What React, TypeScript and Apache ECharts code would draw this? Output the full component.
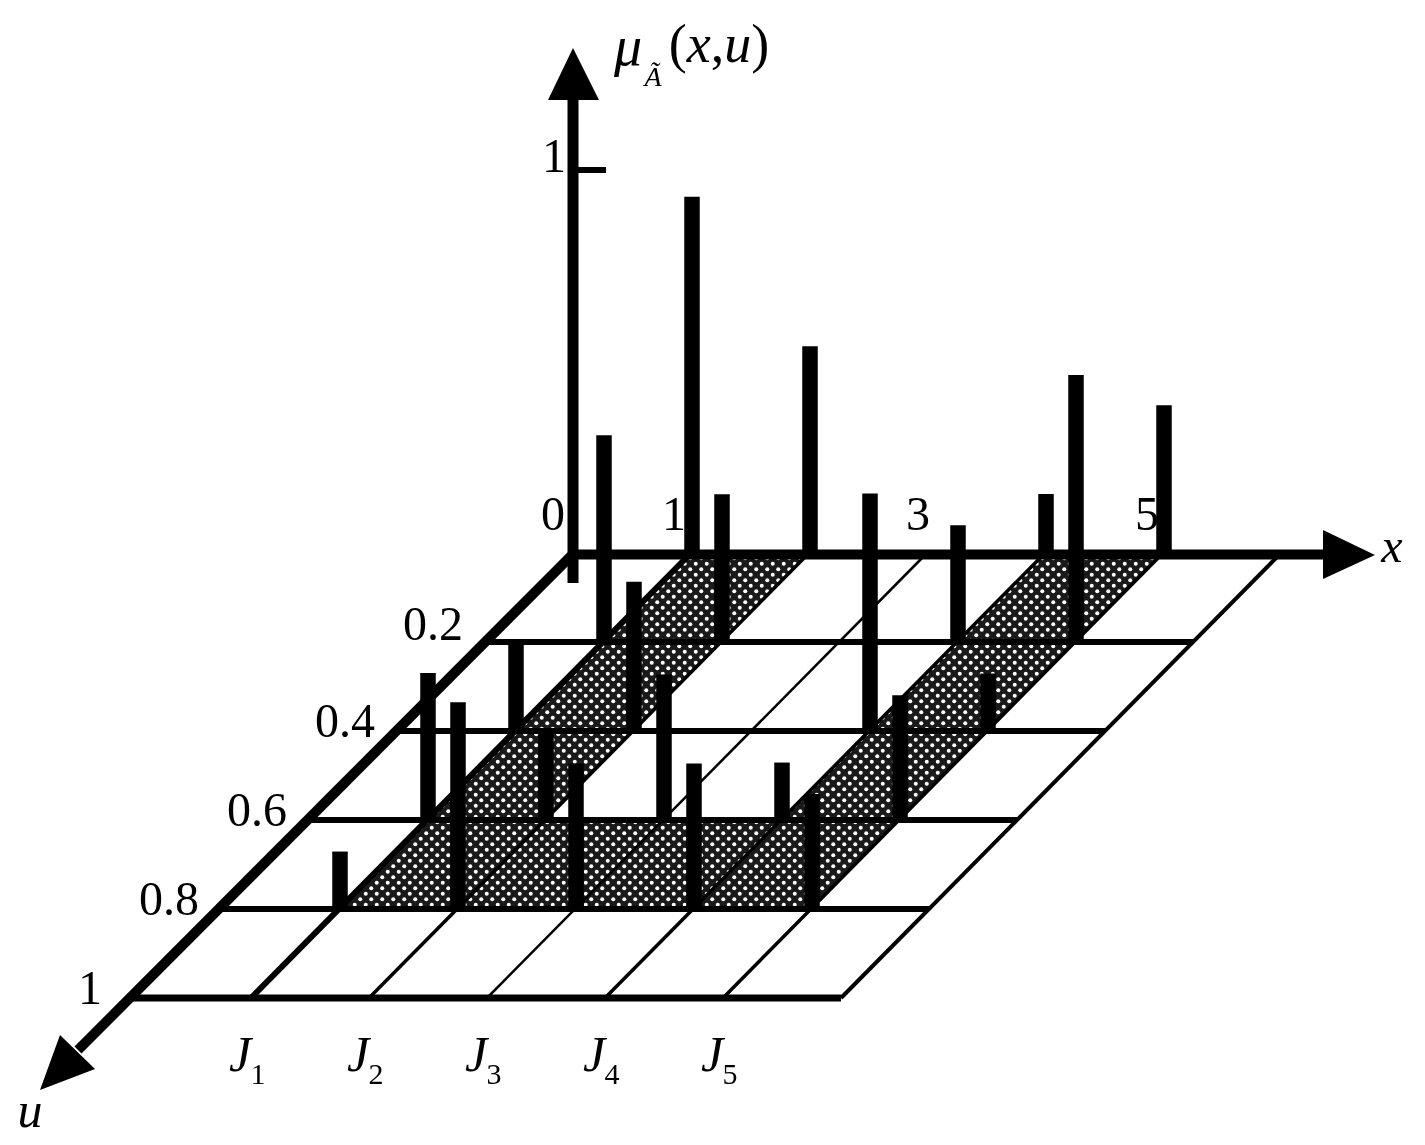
import React, { useEffect, useRef } from "react";
import * as echarts from "echarts";

const W = 1425;
const H = 1145;

// ---- data ----
const uLevels = [0.2, 0.4, 0.6, 0.8, 1];
const uLevelLabels = ["0.2", "0.4", "0.6", "0.8", "1"];
const xLevels = [1, 2, 3, 4, 5, 6];
const xTickValues = [0, 1, 3, 5];
const xTickLabels = ["0", "1", "3", "5"];
const jLabels = ["1", "2", "3", "4", "5"];
const stemsU0 = [[1, 0.93], [2, 0.54], [4, 0.154], [5, 0.386]];
const stemsU02 = [[1, 0.54], [2, 0.386], [4, 0.305], [5, 0.697]];
const stemsU04 = [[1, 0.23], [2, 0.39], [4, 0.62], [5, 0.15]];
const stemsU06 = [[1, 0.384], [2, 0.227], [3, 0.38], [4, 0.15], [5, 0.326]];
const stemsU08 = [[1, 0.15], [2, 0.54], [3, 0.38], [4, 0.38], [5, 0.3]];
const stemRows: [number, number[][]][] = [
  [0, stemsU0],
  [0.2, stemsU02],
  [0.4, stemsU04],
  [0.6, stemsU06],
  [0.8, stemsU08],
];
// embedded sets [x0, u0, x1, u1] on the floor
const shadedBands = [
  [1, 0, 2, 0.8],
  [4, 0, 5, 0.8],
  [1, 0.6, 5, 0.8],
];

// ---- oblique projection (x, u, mu) -> page ----
const ORIGIN_X = 573;
const ORIGIN_Y = 553;
const X_UNIT = 118;
const U_DX = -440;
const U_DY = 445;
const MU_UNIT = 383;
const project = (x: number, u: number, mu = 0): number[] => [
  ORIGIN_X + x * X_UNIT + u * U_DX,
  ORIGIN_Y + u * U_DY - mu * MU_UNIT,
];

const SERIF = '"Liberation Serif", "Times New Roman", serif';
const INK = "#000";

const xLineWidths: Record<number, number> = { 1: 6, 2: 3.5, 3: 2.5, 4: 3.5, 5: 3.5, 6: 4 };

function makeStipple() {
  const c = document.createElement("canvas");
  c.width = 11;
  c.height = 11;
  const g = c.getContext("2d")!;
  g.fillStyle = "#1a1a1a";
  g.fillRect(0, 0, 11, 11);
  g.fillStyle = "#fff";
  for (const [a, b] of [[2.75, 2.75], [8.25, 8.25]]) {
    g.beginPath();
    g.arc(a, b, 2, 0, Math.PI * 2);
    g.fill();
  }
  return c;
}

const text = (
  api: any,
  str: string,
  pos: number[],
  size: number,
  italic = false,
  extra: any = {}
) => {
  const [x, y] = api.coord(pos);
  return {
    type: "text",
    x,
    y,
    style: {
      text: str,
      font: `${italic ? "italic " : ""}${size}px ${SERIF}`,
      fill: INK,
      align: "center",
      verticalAlign: "middle",
      ...extra,
    },
  };
};

const line = (api: any, a: number[], b: number[], lineWidth: number) => {
  const p = api.coord(a);
  const q = api.coord(b);
  return {
    type: "line",
    shape: { x1: p[0], y1: p[1], x2: q[0], y2: q[1] },
    style: { stroke: INK, lineWidth, lineCap: "butt" },
  };
};

const polygon = (api: any, pts: number[][], fill: any) => ({
  type: "polygon",
  shape: { points: pts.map((p) => api.coord(p)) },
  style: { fill },
});

export default function App() {
  const ref = useRef<HTMLDivElement>(null);

  useEffect(() => {
    const chart = echarts.init(ref.current!, undefined, { renderer: "svg" });
    const stipple = { image: makeStipple(), repeat: "repeat" };

    const stemData: number[][] = [];
    stemRows.forEach(([u, row]) => row.forEach(([x, mu]) => stemData.push([x, u, mu])));

    const floorLines: number[][] = [
      ...uLevels.map((u) => [0, u, 6, u, u === 1 ? 7 : 6]),
      ...xLevels.map((x) => [x, 0, x, 1, xLineWidths[x]]),
    ];

    const option: any = {
      animation: false,
      backgroundColor: "#fff",
      tooltip: { show: false },
      grid: { left: 0, right: 0, top: 0, bottom: 0 },
      xAxis: { type: "value", min: 0, max: W, show: false },
      yAxis: { type: "value", min: 0, max: H, inverse: true, show: false },
      series: [
        {
          type: "custom",
          name: "embedded sets",
          silent: true,
          data: shadedBands,
          renderItem: (_: any, api: any) => {
            const [x0, u0, x1, u1] = [0, 1, 2, 3].map((i) => api.value(i));
            return polygon(
              api,
              [project(x0, u0), project(x1, u0), project(x1, u1), project(x0, u1)],
              stipple
            );
          },
        },
        {
          type: "custom",
          name: "floor",
          silent: true,
          data: floorLines,
          renderItem: (_: any, api: any) =>
            line(
              api,
              project(api.value(0), api.value(1)),
              project(api.value(2), api.value(3)),
              api.value(4)
            ),
        },
        {
          type: "custom",
          name: "stems",
          silent: true,
          data: stemData,
          renderItem: (_: any, api: any) => {
            const x = api.value(0);
            const u = api.value(1);
            const mu = api.value(2);
            const a = project(x, u);
            const b = project(x, u, mu);
            return line(api, [a[0] + 1, a[1] + 2], [b[0] + 1, b[1]], 15.5);
          },
        },
        {
          type: "custom",
          name: "axes",
          silent: true,
          data: [[0]],
          renderItem: (_: any, api: any) => {
            const o = project(0, 0);
            const top = project(0, 0, 1);
            return {
              type: "group",
              children: [
                // mu axis
                line(api, [o[0], o[1] + 30], [o[0], 100], 11),
                polygon(api, [[o[0], 48], [o[0] - 25, 100], [o[0] + 26, 100]], INK),
                line(api, [o[0] + 5, top[1]], [o[0] + 33, top[1]], 6),
                // x axis
                line(api, [o[0] - 5, o[1] + 1.5], [1330, o[1] + 1.5], 10),
                polygon(api, [[1375, o[1] + 2], [1323, o[1] - 23], [1323, o[1] + 26]], INK),
                // u axis
                line(api, [o[0] + 2, o[1] - 1], [78, 1050], 10),
                polygon(api, [[40, 1090], [60, 1035], [95, 1069]], INK),
              ],
            };
          },
        },
        {
          type: "custom",
          name: "labels",
          silent: true,
          data: [[0]],
          renderItem: (_: any, api: any) => {
            const children: any[] = [];
            const o = project(0, 0, 1);
            children.push(text(api, "1", [o[0] - 19, o[1] - 15], 48));
            xTickValues.forEach((v, i) => {
              const p = project(v, 0);
              const dx = [-20, -17, -9, -16][i];
              children.push(text(api, xTickLabels[i], [p[0] + dx, p[1] - 40], 48));
            });
            uLevels.forEach((u, i) => {
              const p = project(0, u);
              const dy = i === 0 ? -19 : -11;
              const dx = i === 4 ? -43 : -52;
              children.push(text(api, uLevelLabels[i], [p[0] + dx, p[1] + dy], 48));
            });
            jLabels.forEach((s, i) => {
              const p = project(i + 1, 1);
              children.push(text(api, "J", [p[0] - 11, p[1] + 56], 50, true));
              children.push(text(api, s, [p[0] + 7, p[1] + 75], 30));
            });
            children.push(text(api, "x", [1392, 545], 48, true));
            children.push(text(api, "u", [30, 1110], 50, true));
            children.push(text(api, "μ", [628, 46], 56, true));
            children.push(text(api, "Ã", [653, 76], 28, true));
            children.push(
              text(api, "{p|(}{i|x}{p|,}{i|u}{p|)}", [719, 44], 54, false, {
                rich: {
                  p: { font: `54px ${SERIF}`, fill: INK },
                  i: { font: `italic 54px ${SERIF}`, fill: INK },
                },
              })
            );
            return { type: "group", children };
          },
        },
      ],
    };
    chart.setOption(option);
    return () => chart.dispose();
  }, []);

  return (
    <div style={{ position: "fixed", left: 0, top: 0, width: W, height: H, background: "#fff" }}>
      <div ref={ref} style={{ width: W, height: H, filter: "blur(0.5px)" }} />
    </div>
  );
}
